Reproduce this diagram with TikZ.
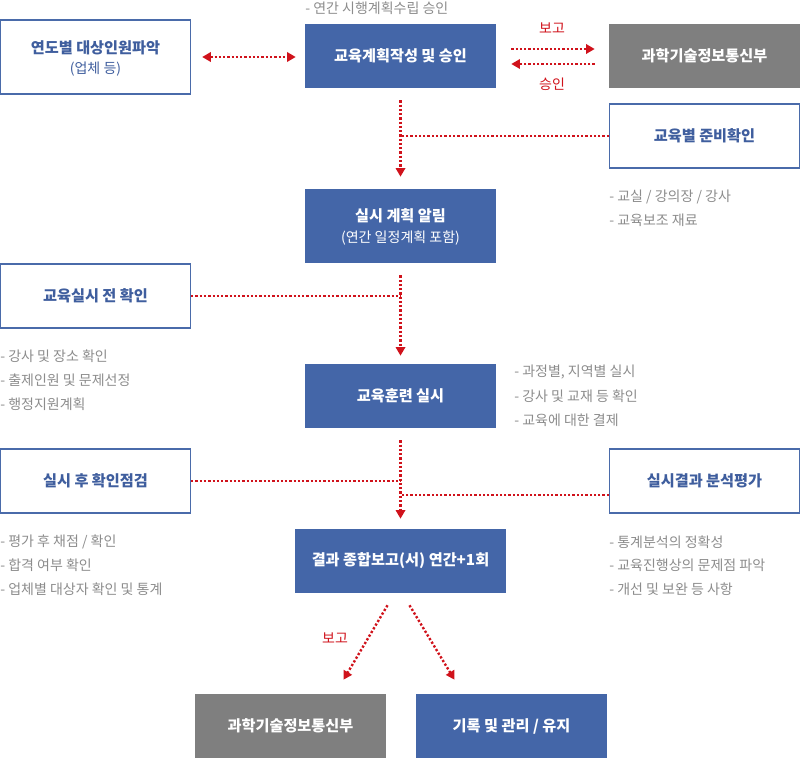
\documentclass[tikz,border=0pt]{standalone}
\usepackage{fontspec}
\setmainfont{Noto Sans CJK KR}
\usetikzlibrary{arrows.meta,calc}
\definecolor{bfill}{HTML}{4466A8}
\definecolor{bline}{HTML}{4A6BAA}
\definecolor{btext}{HTML}{3F5E9E}
\definecolor{gbox}{HTML}{7F7F7F}
\definecolor{rline}{HTML}{D0121B}
\definecolor{gtext}{HTML}{8C8C8C}
\begin{document}
\begin{tikzpicture}[x=0.75pt,y=-0.75pt,
  solidbox/.style={fill=bfill, text=white, minimum width=143.25pt, minimum height=48pt, inner sep=0pt, align=center, font=\bfseries\fontsize{11.4}{14}\selectfont},
  graybox/.style={solidbox, fill=gbox},
  linebox/.style={draw=bline, line width=1pt, fill=white, text=btext, minimum width=142.5pt, minimum height=48pt, inner sep=0pt, align=center, font=\bfseries\fontsize{11.4}{14}\selectfont},
  note/.style={anchor=west, text=gtext, inner sep=0pt, font=\fontsize{10.5}{13}\selectfont},
  rlabel/.style={text=rline, inner sep=0pt, font=\fontsize{10.5}{13}\selectfont},
  dl/.style={draw=rline, line width=1.8pt, dash pattern=on 1.7pt off 1.5pt},
  tip/.style={-{Triangle[length=6.5pt,width=7pt]}},
  tips/.style={{Triangle[length=6.5pt,width=7pt]}-{Triangle[length=6.5pt,width=7pt]}}
]
\useasboundingbox (0,0) rectangle (800,760);
% boxes
\node[linebox, minimum height=55.5pt] (survey) at (95.5,57) {};
\node[text=btext, font=\bfseries\fontsize{11.4}{14}\selectfont, inner sep=0pt] (surveyA) at (95.5,48) {연도별 대상인원파악};
\node[text=btext, font=\fontsize{10.5}{13}\selectfont, inner sep=0pt] (surveyB) at (95.5,69) {(업체 등)};
\node[solidbox] (plan) at (400.5,56) {교육계획작성 및 승인};
\node[graybox] (ministry1) at (704.5,56) {과학기술정보통신부};
\node[linebox] (prep) at (704.5,136) {교육별 준비확인};
\node[solidbox, minimum height=55.5pt] (notice) at (400.5,226) {};
\node[text=white, font=\bfseries\fontsize{11.4}{14}\selectfont, inner sep=0pt] (noticeA) at (400.5,216) {실시 계획 알림};
\node[text=white, font=\fontsize{10.5}{13}\selectfont, inner sep=0pt] (noticeB) at (400.5,238) {(연간 일정계획 포함)};
\node[linebox] (precheck) at (95.5,296) {교육실시 전 확인};
\node[solidbox] (train) at (400.5,396) {교육훈련 실시};
\node[linebox] (postcheck) at (95.5,481) {실시 후 확인점검};
\node[linebox] (analysis) at (704.5,481) {실시결과 분석평가};
\node[solidbox, minimum width=158.25pt] (report) at (400.5,561) {결과 종합보고(서) 연간+1회};
\node[graybox] (ministry2) at (290.5,726) {과학기술정보통신부};
\node[solidbox] (record) at (511.5,726) {기록 및 관리 / 유지};
% notes
\node[note] (n0) at (305,8) {- 연간 시행계획수립 승인};
\node[note] (n1) at (609,197) {- 교실 / 강의장 / 강사};
\node[note] (n2) at (609,220) {- 교육보조 재료};
\node[note] (n3) at (0,356) {- 강사 및 장소 확인};
\node[note] (n4) at (0,380) {- 출제인원 및 문제선정};
\node[note] (n5) at (0,404) {- 행정지원계획};
\node[note] (n6) at (514,372) {- 과정별, 지역별 실시};
\node[note] (n7) at (514,396) {- 강사 및 교재 등 확인};
\node[note] (n8) at (514,420) {- 교육에 대한 결제};
\node[note] (n9) at (0,542) {- 평가 후 채점 / 확인};
\node[note] (n10) at (0,565) {- 합격 여부 확인};
\node[note] (n11) at (0,589) {- 업체별 대상자 확인 및 통계};
\node[note] (n12) at (609,542) {- 통계분석의 정확성};
\node[note] (n13) at (609,565) {- 교육진행상의 문제점 파악};
\node[note] (n14) at (609,589) {- 개선 및 보완 등 사항};
% red labels
\node[rlabel] (lbl1) at (552,28) {보고};
\node[rlabel] (lbl2) at (552,84) {승인};
\node[rlabel] (lbl3) at (335,638) {보고};
% connectors
\coordinate (dA) at ($(survey.east)+(11,0)$);
\draw[dl,tips] (dA) -- (dA -| {$(plan.west)+(-9,0)$});
\draw[dl,tip] ($(plan.east)+(15,-7)$) -- ($(ministry1.west)+(-14,-7)$);
\draw[dl,tip] ($(ministry1.west)+(-14,8)$) -- ($(plan.east)+(15,8)$);
\coordinate (v1s) at ($(plan.south)+(0,12)$);
\coordinate (v1e) at ($(notice.north)+(0,-12)$);
\draw[dl,tip] (v1s) -- (v1e);
\draw[dl] (prep.west) -- (prep.west -| v1s);
\coordinate (v2s) at ($(notice.south)+(0,12)$);
\coordinate (v2e) at ($(train.north)+(0,-8)$);
\draw[dl,tip] (v2s) -- (v2e);
\draw[dl] (precheck.east) -- (precheck.east -| v2s);
\coordinate (v3s) at ($(train.south)+(0,12)$);
\coordinate (v3e) at ($(report.north)+(0,-10)$);
\draw[dl,tip] (v3s) -- (v3e);
\draw[dl] (postcheck.east) -- (postcheck.east -| v3s);
\coordinate (ajoin) at ($(analysis.west)+(0,14)$);
\draw[dl] (ajoin) -- (ajoin -| v3s);
\coordinate (d1s) at ($(report.south)+(-13,12)$);
\coordinate (d2s) at ($(report.south)+(9,12)$);
\draw[dl,tip] (d1s) -- ($(ministry2.north)+(53,-14)$);
\draw[dl,tip] (d2s) -- ($(record.north)+(-57,-14)$);
\end{tikzpicture}
\end{document}
